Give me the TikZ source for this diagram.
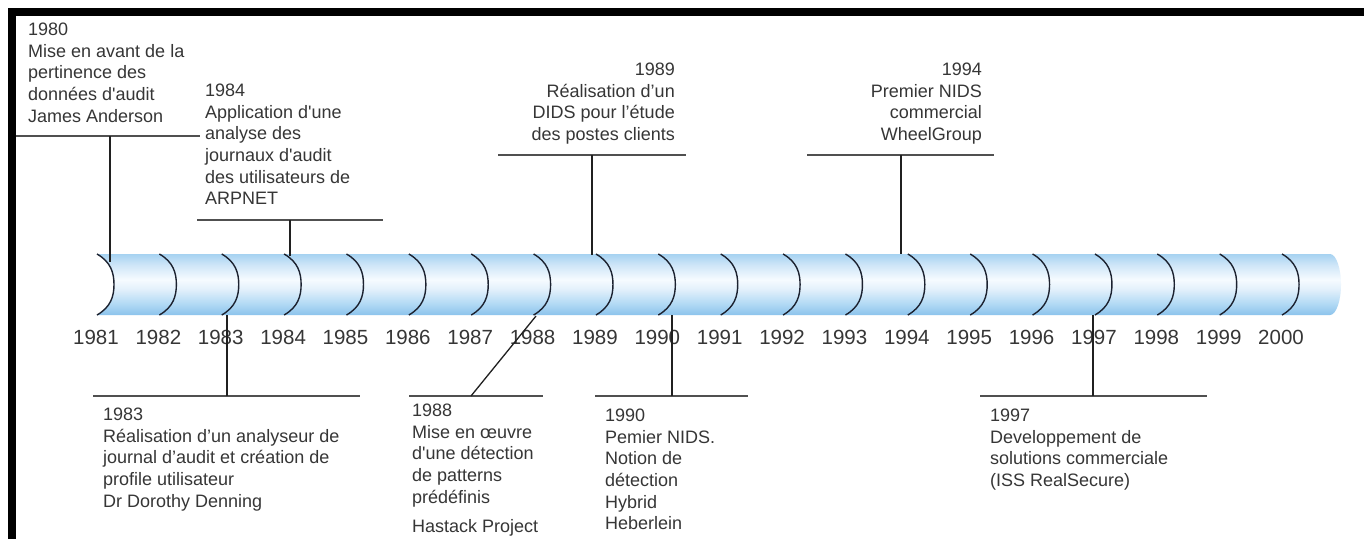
\documentclass[tikz,border=0pt]{standalone}
\usepackage{fontspec}
\newfontfamily\arial{Liberation Sans}
\definecolor{txt}{HTML}{363636}
\definecolor{barc}{HTML}{505050}
\definecolor{stemc}{HTML}{202020}
\definecolor{ringc}{HTML}{1C2230}
\definecolor{tA}{HTML}{8CC3EC}
\definecolor{tB}{HTML}{B5DBF5}
\definecolor{tC}{HTML}{E2F0FB}
\definecolor{tD}{HTML}{F6FBFF}
\definecolor{tE}{HTML}{CFE6F8}
\definecolor{tF}{HTML}{A6D2F1}
% light band across the upper half of the tube, bluer at the edges
\pgfdeclareverticalshading{tubeshade}{100bp}{%
  color(0bp)=(tA); color(25bp)=(tA); color(35bp)=(tB); color(46bp)=(tC);
  color(54bp)=(tD); color(66bp)=(tE); color(75bp)=(tF); color(100bp)=(tF)}
\begin{document}
\begin{tikzpicture}[x=1pt,y=-1pt,
  note/.style={inner sep=0pt, text=txt, font=\arial\fontsize{18}{21.6}\selectfont},
  yearlbl/.style={inner sep=0pt, anchor=base, text=txt, font=\arial\fontsize{20.5}{24}\selectfont},
  bar/.style={draw=barc, line width=2pt},
  stem/.style={draw=stemc, line width=1.3pt},
  ring/.style={draw=ringc, line width=1.4pt}]

\useasboundingbox (0,0) rectangle (1364,539);
\fill[white] (0,0) rectangle (1364,539);

% frame
\fill[black] (8,8) rectangle (1364,16);
\fill[black] (8,8) rectangle (16,539);

% tube
\shade[shading=tubeshade]
  (97,254) -- (1330,254)
  .. controls (1336,254) and (1341,268) .. (1341,284.5)
  .. controls (1341,301) and (1336,315) .. (1330,315)
  -- (97,315)
  .. controls (111,306) and (114,296) .. (114,284.5)
  .. controls (114,273) and (111,262) .. (97,254) -- cycle;

% year rings and labels
\foreach \k in {0,...,19}{
  \pgfmathsetmacro{\xa}{97+62.37*\k}
  \pgfmathtruncatemacro{\yr}{1981+\k}
  \draw[ring] (\xa,254) .. controls (\xa+14,262) and (\xa+17,273) .. (\xa+17,284.5)
                        .. controls (\xa+17,296) and (\xa+14,307) .. (\xa,315);
  \node[yearlbl] (y\yr) at (\xa-1,344) {\yr};
}

% events above the timeline
\node[note, anchor=north west, align=left] (n1980) at (28,23)
  {1980\\Mise en avant de la\\pertinence des\\données d'audit\\James Anderson};
\coordinate (b80l) at (16,136);  \coordinate (b80r) at (200,136);
\coordinate (s80) at (110,136);  \coordinate (t80) at (110,262);
\draw[bar] (b80l) -- (b80r);
\draw[stem] (s80) -- (t80);

\node[note, anchor=north west, align=left] (n1984) at (205,84)
  {1984\\Application d'une\\analyse des\\journaux d'audit\\des utilisateurs de\\ARPNET};
\coordinate (b84l) at (197,220); \coordinate (b84r) at (383,220);
\coordinate (s84) at (290,220);  \coordinate (t84) at (290,256);
\draw[bar] (b84l) -- (b84r);
\draw[stem] (s84) -- (t84);

\node[note, anchor=north east, align=right] (n1989) at (675,63)
  {1989\\Réalisation d’un\\DIDS pour l’étude\\des postes clients};
\coordinate (b89l) at (498,155); \coordinate (b89r) at (686,155);
\coordinate (s89) at (592,155);  \coordinate (t89) at (592,255);
\draw[bar] (b89l) -- (b89r);
\draw[stem] (s89) -- (t89);

\node[note, anchor=north east, align=right] (n1994) at (982,63)
  {1994\\Premier NIDS\\commercial\\WheelGroup};
\coordinate (b94l) at (807,155); \coordinate (b94r) at (994,155);
\coordinate (s94) at (901,155);  \coordinate (t94) at (901,254);
\draw[bar] (b94l) -- (b94r);
\draw[stem] (s94) -- (t94);

% events below the timeline
\node[note, anchor=north west, align=left] (n1983) at (103,408)
  {1983\\Réalisation d’un analyseur de\\journal d’audit et création de\\profile utilisateur\\Dr Dorothy Denning};
\coordinate (b83l) at (93,396);  \coordinate (b83r) at (360,396);
\coordinate (s83) at (227,396);  \coordinate (t83) at (227,315);
\draw[bar] (b83l) -- (b83r);
\draw[stem] (s83) -- (t83);

\node[note, anchor=north west, align=left] (n1988) at (412,404)
  {1988\\Mise en œuvre\\d'une détection\\de patterns\\prédéfinis\\[8pt]Hastack Project};
\coordinate (b88l) at (409,396); \coordinate (b88r) at (543,396);
\coordinate (s88) at (471,396);  \coordinate (t88) at (536,316);
\draw[bar] (b88l) -- (b88r);
\draw[stem] (s88) -- (t88);

\node[note, anchor=north west, align=left] (n1990) at (605,409)
  {1990\\Pemier NIDS.\\Notion de\\détection\\Hybrid\\Heberlein};
\coordinate (b90l) at (595,396); \coordinate (b90r) at (748,396);
\coordinate (s90) at (672,396);  \coordinate (t90) at (672,315);
\draw[bar] (b90l) -- (b90r);
\draw[stem] (s90) -- (t90);

\node[note, anchor=north west, align=left] (n1997) at (990,409)
  {1997\\Developpement de\\solutions commerciale\\(ISS RealSecure)};
\coordinate (b97l) at (980,396); \coordinate (b97r) at (1207,396);
\coordinate (s97) at (1093,396); \coordinate (t97) at (1093,315);
\draw[bar] (b97l) -- (b97r);
\draw[stem] (s97) -- (t97);

\end{tikzpicture}
\end{document}
